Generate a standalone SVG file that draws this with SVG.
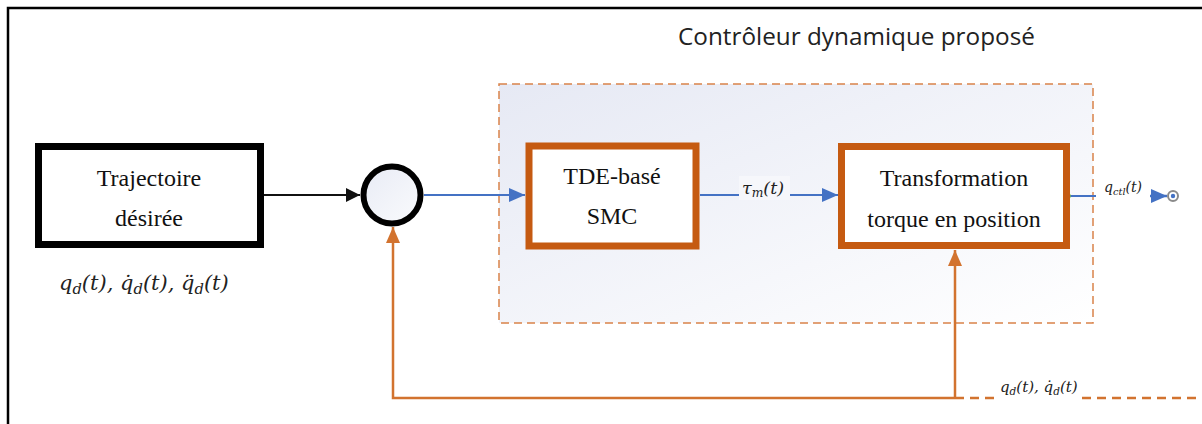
<svg xmlns="http://www.w3.org/2000/svg" width="1202" height="424" viewBox="0 0 1202 424">
<style>
.lbl{font-family:"Liberation Serif","Times New Roman",serif;font-size:24px;fill:#111;text-anchor:middle}
.math{font-family:"DejaVu Serif","Liberation Serif",serif;font-style:italic;fill:#222}
.sub{font-size:70%}
.title{font-family:"Open Sans","Noto Sans",sans-serif;font-size:24.3px;fill:#222}
.obox{fill:#fff;stroke:#c55a11;stroke-width:7}
.fb{stroke:#d2732f;stroke-width:2.5;fill:none}
</style>
<defs>
<linearGradient id="bg" x1="0" y1="0" x2="1" y2="1">
<stop offset="0" stop-color="#e6e9f4"/>
<stop offset="1" stop-color="#ffffff"/>
</linearGradient>
<linearGradient id="cg" x1="0" y1="0" x2="1" y2="1">
<stop offset="0" stop-color="#e8ebf5"/>
<stop offset="1" stop-color="#fafbfd"/>
</linearGradient>
<marker id="ak" viewBox="0 0 14 14" refX="14" refY="7" markerWidth="14" markerHeight="14" orient="auto" markerUnits="userSpaceOnUse">
<path d="M0,0 L14,7 L0,14 z" fill="#111"/>
</marker>
<marker id="abl" viewBox="0 0 16 14" refX="16" refY="7" markerWidth="16" markerHeight="14" orient="auto" markerUnits="userSpaceOnUse">
<path d="M0,0 L16,7 L0,14 z" fill="#4472c4"/>
</marker>
<marker id="ao" viewBox="0 0 16 14" refX="16" refY="7" markerWidth="16" markerHeight="14" orient="auto" markerUnits="userSpaceOnUse">
<path d="M0,0 L16,7 L0,14 z" fill="#d2732f"/>
</marker>
</defs>
<rect x="0" y="0" width="1202" height="424" fill="#fff"/>
<rect x="8" y="8" width="1300" height="500" fill="none" stroke="#000" stroke-width="2.5"/>
<text class="title" x="678" y="45">Contrôleur dynamique proposé</text>

<g id="controller-region">
<rect x="499" y="84" width="594" height="239" fill="url(#bg)" stroke="#d9824a" stroke-width="1.5" stroke-dasharray="8,5"/>
</g>

<g id="connectors">
<line x1="262" y1="195" x2="360" y2="195" stroke="#111" stroke-width="2" marker-end="url(#ak)"/>
<line x1="424" y1="195" x2="525" y2="195" stroke="#4472c4" stroke-width="2" marker-end="url(#abl)"/>
<line x1="700" y1="195" x2="838" y2="195" stroke="#4472c4" stroke-width="2" marker-end="url(#abl)"/>
<rect x="739" y="176" width="51" height="24" fill="#f6f7fb"/>
<text class="math" x="742" y="194" font-size="17.5">τ<tspan class="sub" dy="3">m</tspan><tspan dy="-3">(t)</tspan></text>
<line x1="1070" y1="196" x2="1096" y2="196" stroke="#4472c4" stroke-width="2"/>
<text class="math" x="1104" y="192" font-size="14">q<tspan class="sub" dy="3">ctl</tspan><tspan dy="-3">(t)</tspan></text>
<line x1="1150" y1="196" x2="1167" y2="196" stroke="#4472c4" stroke-width="2.5" marker-end="url(#abl)"/>
<circle cx="1173" cy="196" r="5" fill="#fff" stroke="#8a8a8a" stroke-width="2"/>
<circle cx="1173" cy="196" r="2.2" fill="#4472c4"/>
<circle cx="1066" cy="196" r="4" fill="#fff" stroke="#7bbf4a" stroke-width="1.5"/>
<circle cx="1066" cy="196" r="2" fill="#4472c4"/>
<polyline class="fb" points="955,398 393,398 393,227" marker-end="url(#ao)"/>
<line class="fb" x1="955" y1="398" x2="955" y2="250" marker-end="url(#ao)"/>
<line class="fb" x1="955" y1="398" x2="996" y2="398" stroke-dasharray="9,6" stroke-width="2"/>
<line class="fb" x1="1082" y1="398" x2="1202" y2="398" stroke-dasharray="9,6" stroke-width="2"/>
<text class="math" x="1000" y="392" font-size="15">q<tspan class="sub" dy="3">d</tspan><tspan dy="-3">(t), q̇</tspan><tspan class="sub" dy="3">d</tspan><tspan dy="-3">(t)</tspan></text>
</g>

<g id="trajectoire">
<rect x="38.5" y="146.5" width="222" height="98" fill="#fff" stroke="#000" stroke-width="7"/>
<text class="lbl" x="149" y="186">Trajectoire</text>
<text class="lbl" x="149" y="226">désirée</text>
<text class="math" x="59" y="290" font-size="21">q<tspan class="sub" dy="4">d</tspan><tspan dy="-4">(t), q̇</tspan><tspan class="sub" dy="4">d</tspan><tspan dy="-4">(t), q̈</tspan><tspan class="sub" dy="4">d</tspan><tspan dy="-4">(t)</tspan></text>
</g>

<g id="sum">
<circle cx="392" cy="195" r="28.5" fill="url(#cg)" stroke="#000" stroke-width="6"/>
</g>

<g id="tde-smc">
<rect class="obox" x="529" y="146" width="167" height="100"/>
<text class="lbl" x="612" y="184">TDE-basé</text>
<text class="lbl" x="612" y="224">SMC</text>
</g>

<g id="transformation">
<rect class="obox" x="841.5" y="146.5" width="225" height="99"/>
<text class="lbl" x="954" y="186">Transformation</text>
<text class="lbl" x="954" y="227">torque en position</text>
</g>
</svg>
